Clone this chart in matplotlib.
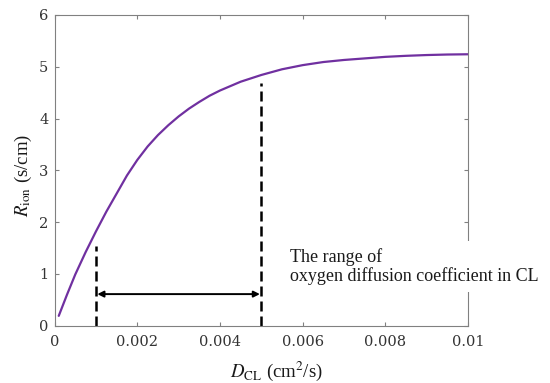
from matplotlib import pyplot as plt

# R_ion vs D_CL
d_cl = [0.0001, 0.0003, 0.0005, 0.00075, 0.001, 0.00125, 0.0015, 0.00175,
        0.002, 0.00225, 0.0025, 0.00275, 0.003, 0.00325, 0.0035, 0.00375,
        0.004, 0.0045, 0.005, 0.0055, 0.006, 0.0065, 0.007, 0.0075, 0.008,
        0.0085, 0.009, 0.0095, 0.01]
r_ion = [0.19, 0.60, 0.99, 1.42, 1.82, 2.2, 2.55, 2.9,
         3.2, 3.46, 3.68, 3.87, 4.04, 4.19, 4.32, 4.44,
         4.54, 4.71, 4.84, 4.95, 5.03, 5.09, 5.13, 5.16, 5.19,
         5.21, 5.225, 5.235, 5.24]
d_range = [0.001, 0.005]      # oxygen diffusion coefficient range in CL
dash_top = [1.53, 4.69]
arrow_y = 0.61

xticks = [0, 0.002, 0.004, 0.006, 0.008, 0.01]
xticklabels = ['0', '0.002', '0.004', '0.006', '0.008', '0.01']
yticks = [0, 1, 2, 3, 4, 5, 6]

plt.rcParams['font.family'] = ['Liberation Serif', 'DejaVu Serif']
plt.rcParams['mathtext.fontset'] = 'stix'

fig = plt.figure(figsize=(5.5, 3.83), dpi=100)
ax = fig.add_axes([0.0993, 0.1496, 0.7516, 0.8115])

ax.plot(d_cl, r_ion, color='#7030a0', lw=1.6, solid_capstyle='round')

for x, top in zip(d_range, dash_top):
    ax.plot([x, x], [0, top], color='black', lw=1.8, ls=(0, (4, 2)))

ax.annotate('', xy=(d_range[0], arrow_y), xytext=(d_range[1], arrow_y),
            arrowprops=dict(arrowstyle='<|-|>', color='black', lw=1.4,
                            mutation_scale=9, shrinkA=1, shrinkB=1))

fig.text(0.5273, 0.3525, 'The range of\noxygen diffusion coefficient in CL',
         fontsize=13, color='#1a1a1a', va='top', linespacing=1.12,
         bbox=dict(facecolor='white', edgecolor='none', pad=5))

ax.set_xlim(0, 0.01)
ax.set_ylim(0, 6)
ax.set_xticks(xticks)
ax.set_xticklabels(xticklabels)
ax.set_yticks(yticks)
ax.tick_params(direction='in', top=True, right=True, length=3,
               colors='#808080', labelcolor='#333333')
ax.tick_params(axis='x', pad=7)
ax.tick_params(axis='y', pad=4.5)
for lab in ax.get_xticklabels() + ax.get_yticklabels():
    lab.set_family('DejaVu Serif')
    lab.set_fontsize(10.5)
for s in ax.spines.values():
    s.set_color('#808080')

ax.set_xlabel(r'$D_{\mathrm{CL}}$ (cm$^2$/s)', fontsize=13.5, color='#1a1a1a',
              va='top')
ax.xaxis.set_label_coords(0.5356, -0.108)
ax.set_ylabel(r'$R_{\mathrm{ion}}$ (s/cm)', fontsize=13.5, color='#1a1a1a',
              va='center')
ax.yaxis.set_label_coords(-0.0757, 0.485)

plt.savefig('out.png', dpi=100)
